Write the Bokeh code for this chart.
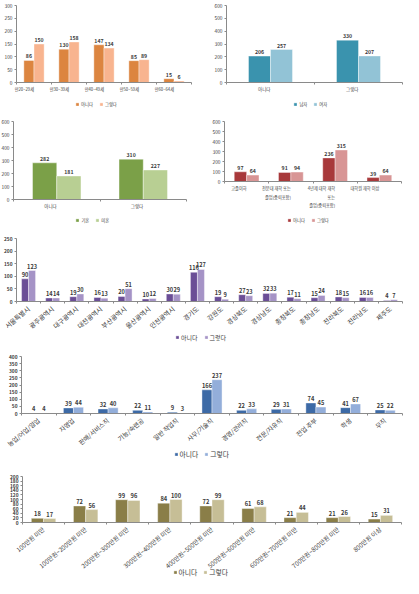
import numpy as np
from bokeh.plotting import figure
from bokeh.layouts import column, row
from bokeh.models import (Range1d, FixedTicker, Legend, LegendItem, ColumnDataSource,
                          LinearAxis)
from bokeh.core.properties import value
from bokeh.embed import file_html
from bokeh.resources import INLINE

FONT = "Noto Sans CJK KR"
answer_names = ["아니다", "그렇다"]

# Panel 1: age
age_cats = ["만20~29세", "만30~39세", "만40~49세", "만50~59세", "만60~64세"]
age_no = [86, 130, 147, 85, 15]
age_yes = [150, 158, 134, 89, 6]

# Panel 2: gender
gender_cats = ["아니다", "그렇다"]
gender_names = ["남자", "여자"]
gender_male = [206, 330]
gender_female = [257, 207]

# Panel 3: marital status
marital_cats = ["아니다", "그렇다"]
marital_names = ["기혼", "미혼"]
marital_married = [282, 310]
marital_single = [181, 227]

# Panel 4: education (label lines)
edu_cats = ["고졸이하", "전문대 재학 또는\n졸업(중퇴포함)", "4년제 대학 재학\n또는\n졸업(중퇴포함)", "대학원 재학 이상"]
edu_no = [97, 91, 236, 39]
edu_yes = [64, 94, 315, 64]

# Panel 5: region
region_cats = ["서울특별시", "광주광역시", "대구광역시", "대전광역시", "부산광역시", "울산광역시",
               "인천광역시", "경기도", "강원도", "경상북도", "경상남도", "충청북도", "충청남도",
               "전라북도", "전라남도", "제주도"]
region_no = [90, 14, 19, 16, 20, 10, 30, 116, 19, 27, 32, 17, 15, 18, 16, 4]
region_yes = [123, 14, 30, 13, 51, 12, 29, 127, 9, 23, 33, 11, 24, 15, 16, 7]

# Panel 6: occupation
job_cats = ["농업/어업/임업", "자영업", "판매/서비스직", "기능/숙련공", "일반 작업직", "사무/기술직",
            "경영/관리직", "전문/자유직", "전업 주부", "학생", "무직"]
job_no = [4, 39, 32, 22, 9, 166, 22, 29, 74, 41, 25]
job_yes = [4, 44, 40, 11, 3, 237, 33, 31, 45, 67, 22]

# Panel 7: income
income_cats = ["100만원 미만", "100만원~200만원 미만", "200만원~300만원 미만", "300만원~400만원 미만",
               "400만원~500만원 미만", "500만원~600만원 미만", "600만원~700만원 미만",
               "700만원~800만원 미만", "800만원 이상"]
income_no = [18, 72, 99, 84, 72, 61, 21, 21, 15]
income_yes = [17, 56, 96, 100, 99, 68, 44, 26, 31]

TXT = "#3a3a3a"
AX = "#8a8a8a"


def text_w(s, fs):
    return sum(fs * 1.0 if ord(c) > 0x1100 else fs * 0.55 for c in s)


def style_label_axis(ax, fs, orient=0.0, standoff=3):
    ax.major_label_text_font = FONT
    ax.major_label_text_font_size = f"{fs}px"
    ax.major_label_text_color = TXT
    ax.major_label_standoff = int(standoff)
    ax.major_label_orientation = orient


def panel(cats, a, b, names, colors, ymax, ystep, width, height, left, right, top, zero_px,
          leg_cx, leg_cy, orient=0.0, cat_fs=4.2, tick_fs=4.8, tick_bold=False, val_fs=5.2,
          leg_fs=4.3, leg_g=4, bw=0.29, line_standoffs=(4, 15, 23)):
    n = len(cats)
    idx = np.arange(n, dtype=float)
    # the frame fills the whole figure; the plotting area proper runs from
    # (left, top) to (width - right, zero_px) in screen pixels
    sy = (zero_px - top) / ymax
    sx = (width - left - right) / n
    p = figure(width=width, height=height, output_backend="svg", toolbar_location=None,
               x_range=Range1d(-0.5 - left / sx, n - 0.5 + right / sx),
               y_range=Range1d(-(height - zero_px) / sy, ymax + top / sy),
               min_border=0, min_border_left=0, min_border_right=0, min_border_top=0,
               min_border_bottom=0)
    p.outline_line_color = None
    p.grid.visible = False
    src = ColumnDataSource(dict(x1=list(idx - bw / 2), x2=list(idx + bw / 2), a=a, b=b,
                                la=[str(v) for v in a], lb=[str(v) for v in b]))
    r1 = p.vbar(x="x1", top="a", width=bw, fill_color=colors[0], line_color="white",
                line_width=0.4, source=src)
    r2 = p.vbar(x="x2", top="b", width=bw, fill_color=colors[1], line_color="white",
                line_width=0.4, source=src)
    for xc, yc, tc in (("x1", "a", "la"), ("x2", "b", "lb")):
        p.text(x=xc, y=yc, text=tc, source=src, text_font=value(FONT),
               text_font_size=f"{val_fs}px", text_font_style="bold", text_color=TXT,
               text_align="center", text_baseline="bottom", y_offset=-2)
    lines = [c.split("\n") for c in cats]
    nlines = max(len(l) for l in lines)
    xa = p.xaxis[0]
    xa.fixed_location = 0
    xa.bounds = (-0.5, n - 0.5)
    xa.ticker = FixedTicker(ticks=list(idx), minor_ticks=list(np.arange(n + 1) - 0.5))
    xa.major_label_overrides = {i: l[0] for i, l in enumerate(lines)}
    xa.major_tick_line_color = None
    xa.major_tick_out = 2
    xa.minor_tick_line_color = AX
    xa.minor_tick_out = 2
    xa.minor_tick_in = 0
    xa.axis_line_color = AX
    style_label_axis(xa, cat_fs, orient, standoff=line_standoffs[0])
    for k in range(1, nlines):
        ex = LinearAxis(ticker=FixedTicker(ticks=list(idx), minor_ticks=[]),
                        major_label_overrides={i: (l[k] if len(l) > k else " ")
                                               for i, l in enumerate(lines)})
        ex.fixed_location = 0
        ex.bounds = (-0.5, n - 0.5)
        ex.axis_line_color = None
        ex.major_tick_line_color = None
        ex.major_tick_out = 0
        ex.major_tick_in = 0
        ex.minor_tick_line_color = None
        style_label_axis(ex, cat_fs, 0.0, standoff=line_standoffs[k])
        p.add_layout(ex, "below")
    ya = p.yaxis[0]
    ya.fixed_location = -0.5
    ya.bounds = (0, ymax)
    ya.ticker = FixedTicker(ticks=list(range(0, ymax + 1, ystep)), minor_ticks=[])
    ya.axis_line_color = AX
    ya.major_tick_line_color = AX
    ya.major_tick_out = 2
    ya.major_tick_in = 0
    ya.minor_tick_line_color = None
    ya.major_label_text_font = FONT
    ya.major_label_text_font_size = f"{tick_fs}px"
    ya.major_label_text_font_style = "bold" if tick_bold else "normal"
    ya.major_label_text_color = TXT
    ya.major_label_standoff = 2

    pad, standoff, spacing = 1, 2, 6
    leg_w = 2 * pad + spacing + sum(leg_g + standoff + text_w(t, leg_fs) for t in names)
    leg_h = leg_fs * 1.45 + 2 * pad
    leg = Legend(items=[LegendItem(label=t, renderers=[r]) for t, r in zip(names, [r1, r2])],
                 orientation="horizontal",
                 location=(leg_cx - leg_w / 2, height - leg_cy - leg_h / 2),
                 label_text_font=FONT, label_text_font_size=f"{leg_fs}px",
                 label_text_color=TXT, glyph_width=leg_g, glyph_height=leg_g,
                 label_height=leg_g, label_width=0, label_standoff=standoff,
                 spacing=spacing, padding=pad, margin=0, border_line_color=None,
                 background_fill_alpha=0)
    p.add_layout(leg, "center")
    return p


W = 403
f1 = panel(age_cats, age_no, age_yes, answer_names, ["#DC8540", "#F8B48F"], 300, 50,
           205, 112, 16, 14, 5, 82, 98, 103)
f2 = panel(gender_cats, gender_male, gender_female, gender_names, ["#3A93AE", "#92C3D6"],
           600, 100, 198, 112, 21, 1, 5, 82, 107, 103, bw=0.25, cat_fs=4.5)
f3 = panel(marital_cats, marital_married, marital_single, marital_names,
           ["#7BA048", "#B8CF93"], 600, 100, 205, 113, 13, 19, 9, 87, 94, 107,
           bw=0.28, cat_fs=4.5)
f4 = panel(edu_cats, edu_no, edu_yes, answer_names, ["#A8393B", "#D89595"], 600, 100,
           198, 113, 19, 2, 9, 69, 105, 106.5, bw=0.28, cat_fs=4.2)
f5 = panel(region_cats, region_no, region_yes, answer_names, ["#6B4E96", "#A593C6"], 250, 50,
           W, 118, 16, 1, 13, 76, 203, 111.5, orient=0.7, cat_fs=6.5, tick_bold=True,
           val_fs=5.6, leg_fs=6)
f6 = panel(job_cats, job_no, job_yes, answer_names, ["#3D6AA6", "#93AEDA"], 400, 50,
           W, 117, 21, 1, 13, 70, 204, 110, orient=0.7, cat_fs=6.3, tick_bold=True,
           val_fs=5.7, leg_fs=6.8)
f7 = panel(income_cats, income_no, income_yes, answer_names, ["#8A7E48", "#C6BE96"], 200, 20,
           W, 118, 22, 2, 16, 62, 203, 111, orient=0.7, cat_fs=6.2, tick_bold=True,
           val_fs=5.7, leg_fs=6.8)

layout = column(row(f1, f2, spacing=0), row(f3, f4, spacing=0), f5, f6, f7, spacing=0)
open("out.html", "w").write(file_html(layout, INLINE))
